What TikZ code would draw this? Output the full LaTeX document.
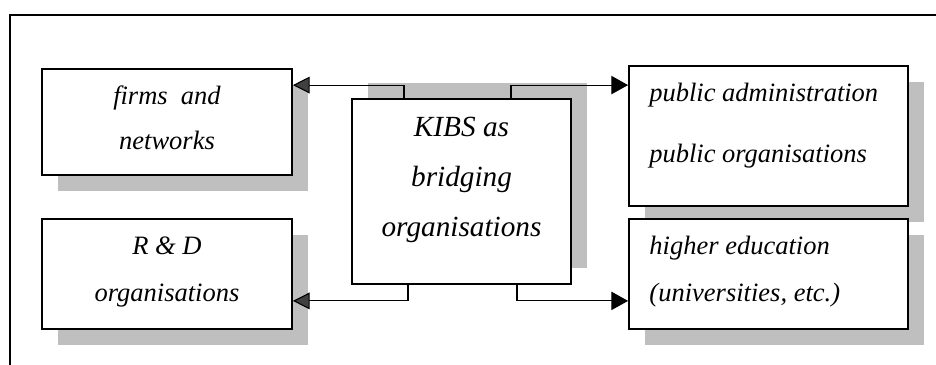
\documentclass[tikz,border=0pt]{standalone}
\usepackage{fontspec}
\setmainfont{Liberation Serif}
\usetikzlibrary{arrows.meta,shadows}

\tikzset{
  orgbox/.style={rectangle, draw, line width=1.3pt, fill=white, inner sep=0pt,
    drop shadow={shadow xshift=0.4cm, shadow yshift=-0.4cm, fill=black!25, opacity=1}},
  kibsbox/.style={rectangle, draw, line width=1.3pt, fill=white, inner sep=0pt,
    drop shadow={shadow xshift=0.4cm, shadow yshift=0.4cm, fill=black!25, opacity=1}},
  orgtext/.style={font=\fontsize{18.85}{22}\selectfont\itshape, inner sep=0pt, anchor=base},
  kibstext/.style={orgtext, font=\fontsize{20.8}{24}\selectfont\itshape},
  toleft/.style={line width=0.8pt, -{Triangle[length=0.42cm,width=0.42cm,fill=black!75]}},
  toright/.style={line width=0.8pt, -{Triangle[length=0.42cm,width=0.46cm]}}
}

\begin{document}
\begin{tikzpicture}
		\useasboundingbox (0,0) rectangle (23.4,9.125);
		
		% outer frame
		\draw[line width=1.4pt] (0.25,0) -- (0.25,8.75) -- (23.4,8.75);
		
		% Draw the boxes
		\node[orgbox, minimum width=6.25cm, minimum height=2.65cm] (firms) at (4.175,6.075) {};
		\node[orgbox, minimum width=6.25cm, minimum height=2.75cm] (rd) at (4.175,2.275) {};
		\node[kibsbox, minimum width=5.475cm, minimum height=4.625cm] (kibs) at (11.5375,4.3375) {};
		\node[orgbox, minimum width=6.975cm, minimum height=3.5cm] (public) at (19.2125,5.725) {};
		\node[orgbox, minimum width=6.975cm, minimum height=2.75cm] (higher) at (19.2125,2.275) {};
		
		% texts
		\node[orgtext] (firms1) at (4.175,6.5175) {firms\ \ and};
		\node[orgtext] (firms2) at (4.175,5.375) {networks};
		\node[orgtext] (rd1) at (4.175,2.75) {R \& D};
		\node[orgtext] (rd2) at (4.175,1.5825) {organisations};
		\node[kibstext] (kibs1) at (11.5375,5.7075) {KIBS as};
		\node[kibstext] (kibs2) at (11.5375,4.4575) {bridging};
		\node[kibstext] (kibs3) at (11.5375,3.2075) {organisations};
		\node[orgtext, anchor=base west] (public1) at (16.225,6.5825) {public administration};
		\node[orgtext, anchor=base west] (public2) at (16.225,5.05) {public organisations};
		\node[orgtext, anchor=base west] (higher1) at (16.23,2.75) {higher education};
		\node[orgtext, anchor=base west] (higher2) at (16.23,1.5825) {(universities, etc.)};
		
		% Draw the connectors
		\draw[toleft] ([xshift=-1.4375cm]kibs.north) |- ([yshift=-0.425cm]firms.north east);
		\draw[toleft] ([xshift=-1.3375cm]kibs.south) |- ([yshift=0.725cm]rd.south east);
		\draw[toright] ([xshift=1.2375cm]kibs.north) |- ([yshift=-0.5cm]public.north west);
		\draw[toright] ([xshift=1.3875cm]kibs.south) |- ([yshift=0.725cm]higher.south west);
	\end{tikzpicture}
\end{document}
